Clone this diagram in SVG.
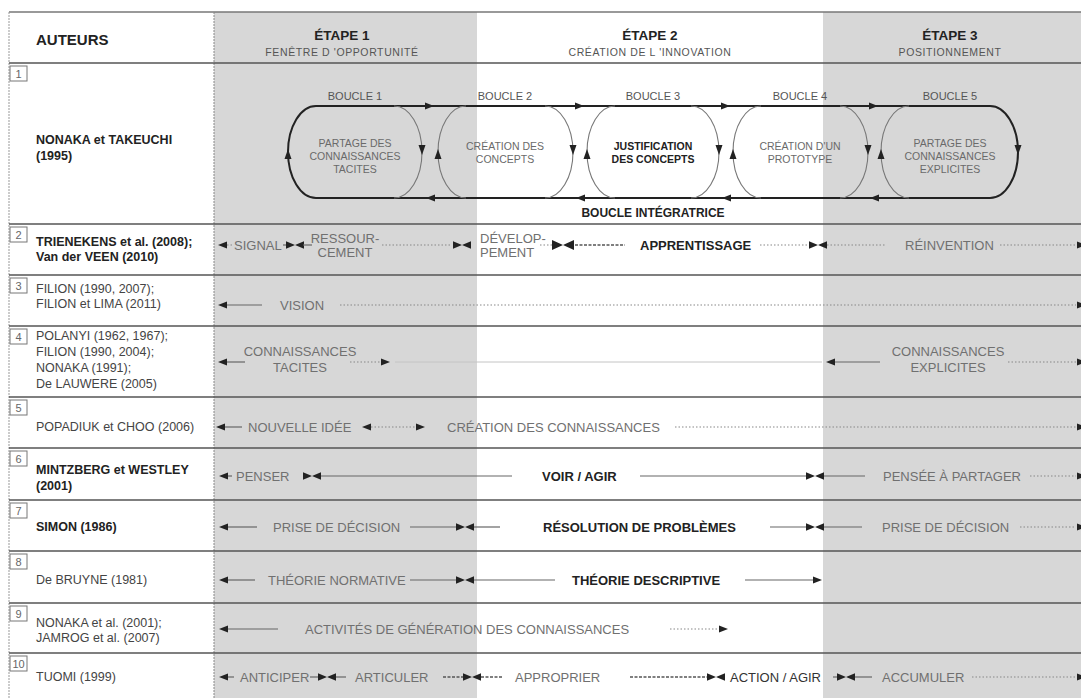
<svg xmlns="http://www.w3.org/2000/svg" xmlns:xlink="http://www.w3.org/1999/xlink" width="1081" height="698" viewBox="0 0 1081 698">
<style>
text{font-family:"Liberation Sans",Arial,sans-serif}
.hb{font-size:13.5px;font-weight:bold;fill:#222}
.ha{font-size:15px;font-weight:bold;fill:#222}
.hs{font-size:10.5px;fill:#555;letter-spacing:0.6px}
.au{font-size:12.5px;fill:#444}
.aub{font-size:12.5px;fill:#222;font-weight:bold}
.t{font-size:13px;fill:#707070}
.tb{font-size:13px;fill:#222;font-weight:bold}
.lp{font-size:10.5px;fill:#6a6a6a}
.lpb{font-size:10.5px;fill:#222;font-weight:bold}
.bl{font-size:11px;fill:#555}
.num{font-size:11px;fill:#666}
.nb{fill:#fff;stroke:#777;stroke-width:1}
.sep{stroke:#555;stroke-width:1.5}
.ln{stroke:#666;stroke-width:1.2;fill:none}
.dt{stroke:#888;stroke-width:1.2;stroke-dasharray:1.5 2;fill:none}
.dk{stroke:#555;stroke-width:1.5;stroke-dasharray:3 1.5;fill:none}
.ah{fill:#222}
.outer{stroke:#222;stroke-width:2;fill:none}
.inner{stroke:#777;stroke-width:1.1;fill:none}
</style>
<defs>
<path id="ar" class="ah" d="M0,0 L-9,-3.5 L-9,3.5 Z"/>
<path id="al" class="ah" d="M0,0 L9,-3.5 L9,3.5 Z"/>
<path id="bt" class="ah" d="M0,0 L-9,-3.8 L-9,3.8 Z M0,0 L9,-3.8 L9,3.8 Z"/>
<path id="au" class="ah" d="M0,-5 L-3.5,5 L3.5,5 Z"/>
<path id="ad" class="ah" d="M0,5 L-3.5,-5 L3.5,-5 Z"/>
</defs>
<rect width="1081" height="698" fill="#fff"/>
<g id="shading">
<rect x="214" y="12" width="263" height="686" fill="#d7d7d7"/>
<rect x="823" y="12" width="258" height="686" fill="#d7d7d7"/>
</g>
<g id="grid">
<line x1="9" y1="12" x2="1081" y2="12" stroke="#777" stroke-width="1.5"/>
<line x1="9" y1="12" x2="9" y2="698" stroke="#999" stroke-width="1" stroke-dasharray="2 1"/>
<line x1="214" y1="12" x2="214" y2="698" stroke="#888" stroke-width="1" stroke-dasharray="2 1"/>
<line class="sep" x1="9" y1="63" x2="1081" y2="63"/>
<line class="sep" x1="9" y1="224" x2="1081" y2="224"/>
<line class="sep" x1="9" y1="275" x2="1081" y2="275"/>
<line class="sep" x1="9" y1="326" x2="1081" y2="326"/>
<line class="sep" x1="9" y1="397" x2="1081" y2="397"/>
<line class="sep" x1="9" y1="448" x2="1081" y2="448"/>
<line class="sep" x1="9" y1="500" x2="1081" y2="500"/>
<line class="sep" x1="9" y1="551" x2="1081" y2="551"/>
<line class="sep" x1="9" y1="603" x2="1081" y2="603"/>
<line class="sep" x1="9" y1="653" x2="1081" y2="653"/>
</g>
<g id="header">
<text class="ha" x="36" y="45">AUTEURS</text>
<text class="hb" x="342" y="40" text-anchor="middle">ÉTAPE 1</text>
<text class="hs" x="342" y="56" text-anchor="middle">FENÊTRE D 'OPPORTUNITÉ</text>
<text class="hb" x="650" y="40" text-anchor="middle">ÉTAPE 2</text>
<text class="hs" x="650" y="56" text-anchor="middle">CRÉATION DE L 'INNOVATION</text>
<text class="hb" x="950" y="40" text-anchor="middle">ÉTAPE 3</text>
<text class="hs" x="950" y="56" text-anchor="middle">POSITIONNEMENT</text>
</g>
<g id="numbers">
<rect class="nb" x="10" y="66" width="17" height="15"/><text class="num" x="18.5" y="78" text-anchor="middle">1</text>
<rect class="nb" x="10" y="227" width="17" height="15"/><text class="num" x="18.5" y="239" text-anchor="middle">2</text>
<rect class="nb" x="10" y="278" width="17" height="15"/><text class="num" x="18.5" y="290" text-anchor="middle">3</text>
<rect class="nb" x="10" y="329" width="17" height="15"/><text class="num" x="18.5" y="341" text-anchor="middle">4</text>
<rect class="nb" x="10" y="400" width="17" height="15"/><text class="num" x="18.5" y="412" text-anchor="middle">5</text>
<rect class="nb" x="10" y="451" width="17" height="15"/><text class="num" x="18.5" y="463" text-anchor="middle">6</text>
<rect class="nb" x="10" y="503" width="17" height="15"/><text class="num" x="18.5" y="515" text-anchor="middle">7</text>
<rect class="nb" x="10" y="554" width="17" height="15"/><text class="num" x="18.5" y="566" text-anchor="middle">8</text>
<rect class="nb" x="10" y="606" width="17" height="15"/><text class="num" x="18.5" y="618" text-anchor="middle">9</text>
<rect class="nb" x="10" y="656" width="17" height="15"/><text class="num" x="18.5" y="668" text-anchor="middle">10</text>
</g>
<g id="authors">
<text class="aub" x="36" y="144">NONAKA et TAKEUCHI</text>
<text class="aub" x="36" y="160">(1995)</text>
<text class="aub" x="36" y="246">TRIENEKENS et al. (2008);</text>
<text class="aub" x="36" y="261">Van der VEEN (2010)</text>
<text class="au" x="36" y="293">FILION (1990, 2007);</text>
<text class="au" x="36" y="308">FILION et LIMA (2011)</text>
<text class="au" x="36" y="340">POLANYI (1962, 1967);</text>
<text class="au" x="36" y="356">FILION (1990, 2004);</text>
<text class="au" x="36" y="372">NONAKA (1991);</text>
<text class="au" x="36" y="388">De LAUWERE (2005)</text>
<text class="au" x="36" y="431">POPADIUK et CHOO (2006)</text>
<text class="aub" x="36" y="474">MINTZBERG et WESTLEY</text>
<text class="aub" x="36" y="490">(2001)</text>
<text class="aub" x="36" y="531">SIMON (1986)</text>
<text class="au" x="36" y="584">De BRUYNE (1981)</text>
<text class="au" x="36" y="627">NONAKA et al. (2001);</text>
<text class="au" x="36" y="642">JAMROG et al. (2007)</text>
<text class="au" x="36" y="681">TUOMI (1999)</text>
</g>
<g id="row-1-loops">
<g id="boucle-1"><text class="bl" x="355" y="100" text-anchor="middle">BOUCLE 1</text>
<text class="lp" x="355" y="147" text-anchor="middle">PARTAGE DES</text>
<text class="lp" x="355" y="160" text-anchor="middle">CONNAISSANCES</text>
<text class="lp" x="355" y="173" text-anchor="middle">TACITES</text></g>
<g id="boucle-2"><text class="bl" x="505" y="100" text-anchor="middle">BOUCLE 2</text>
<text class="lp" x="505" y="150" text-anchor="middle">CRÉATION DES</text>
<text class="lp" x="505" y="163" text-anchor="middle">CONCEPTS</text></g>
<g id="boucle-3"><text class="bl" x="653" y="100" text-anchor="middle">BOUCLE 3</text>
<text class="lpb" x="653" y="150" text-anchor="middle">JUSTIFICATION</text>
<text class="lpb" x="653" y="163" text-anchor="middle">DES CONCEPTS</text></g>
<g id="boucle-4"><text class="bl" x="800" y="100" text-anchor="middle">BOUCLE 4</text>
<text class="lp" x="800" y="150" text-anchor="middle">CRÉATION D'UN</text>
<text class="lp" x="800" y="163" text-anchor="middle">PROTOTYPE</text></g>
<g id="boucle-5"><text class="bl" x="950" y="100" text-anchor="middle">BOUCLE 5</text>
<text class="lp" x="950" y="147" text-anchor="middle">PARTAGE DES</text>
<text class="lp" x="950" y="160" text-anchor="middle">CONNAISSANCES</text>
<text class="lp" x="950" y="173" text-anchor="middle">EXPLICITES</text></g>
<g id="boucle-integratrice"><text class="tb" x="653" y="217" text-anchor="middle" style="font-size:12px">BOUCLE INTÉGRATRICE</text></g>
</g>
<g id="row-2">
<text class="t" x="234" y="250">SIGNAL</text>
<text class="t" x="345" y="243" text-anchor="middle">RESSOUR-</text>
<text class="t" x="345" y="257" text-anchor="middle">CEMENT</text>
<text class="t" x="480" y="243">DÉVELOP-</text>
<text class="t" x="480" y="257">PEMENT</text>
<text class="tb" x="640" y="250">APPRENTISSAGE</text>
<text class="t" x="905" y="250">RÉINVENTION</text>
</g>
<g id="row-3"><text class="t" x="280" y="310">VISION</text></g>
<g id="row-4">
<text class="t" x="300" y="356" text-anchor="middle">CONNAISSANCES</text>
<text class="t" x="300" y="372" text-anchor="middle">TACITES</text>
<text class="t" x="948" y="356" text-anchor="middle">CONNAISSANCES</text>
<text class="t" x="948" y="372" text-anchor="middle">EXPLICITES</text>
</g>
<g id="row-5">
<text class="t" x="248" y="432">NOUVELLE IDÉE</text>
<text class="t" x="447" y="432">CRÉATION DES CONNAISSANCES</text>
</g>
<g id="row-6">
<text class="t" x="236" y="481">PENSER</text>
<text class="tb" x="542" y="481">VOIR / AGIR</text>
<text class="t" x="883" y="481">PENSÉE À PARTAGER</text>
</g>
<g id="row-7">
<text class="t" x="273" y="532">PRISE DE DÉCISION</text>
<text class="tb" x="543" y="532">RÉSOLUTION DE PROBLÈMES</text>
<text class="t" x="882" y="532">PRISE DE DÉCISION</text>
</g>
<g id="row-8">
<text class="t" x="268" y="585">THÉORIE NORMATIVE</text>
<text class="tb" x="572" y="585">THÉORIE DESCRIPTIVE</text>
</g>
<g id="row-9"><text class="t" x="305" y="634">ACTIVITÉS DE GÉNÉRATION DES CONNAISSANCES</text></g>
<g id="row-10">
<text class="t" x="240" y="682">ANTICIPER</text>
<text class="t" x="355" y="682">ARTICULER</text>
<text class="t" x="515" y="682">APPROPRIER</text>
<text class="tb" x="730" y="682" style="font-weight:normal;fill:#333">ACTION / AGIR</text>
<text class="t" x="882" y="682">ACCUMULER</text>
</g>
<g id="connectors">
<path class="outer" d="M316,106 H990 A28,46 0 0 1 990,198 H316 A28,46 0 0 1 316,106 Z"/>
<path class="inner" d="M394,106 A28,46 0 0 1 394,198"/>
<path class="inner" d="M466,106 A28,46 0 0 0 466,198"/>
<path class="inner" d="M545,106 A28,46 0 0 1 545,198"/>
<path class="inner" d="M615,106 A28,46 0 0 0 615,198"/>
<path class="inner" d="M691,106 A28,46 0 0 1 691,198"/>
<path class="inner" d="M761,106 A28,46 0 0 0 761,198"/>
<path class="inner" d="M840,106 A28,46 0 0 1 840,198"/>
<path class="inner" d="M909,106 A28,46 0 0 0 909,198"/>
<use href="#ar" x="434" y="106"/><use href="#ar" x="584" y="106"/><use href="#ar" x="730" y="106"/><use href="#ar" x="878" y="106"/>
<use href="#al" x="426" y="198"/><use href="#al" x="576" y="198"/><use href="#al" x="722" y="198"/><use href="#al" x="870" y="198"/>
<use href="#au" x="288" y="154"/><use href="#ad" x="422" y="150"/>
<use href="#au" x="438" y="154"/><use href="#ad" x="573" y="150"/>
<use href="#au" x="587" y="154"/><use href="#ad" x="719" y="150"/>
<use href="#au" x="733" y="154"/><use href="#ad" x="868" y="150"/>
<use href="#au" x="881" y="154"/><use href="#ad" x="1018" y="150"/>
<use href="#al" x="218" y="245"/>
<line class="dt" x1="227" y1="245" x2="232" y2="245"/>
<line class="ln" x1="283" y1="245" x2="287" y2="245"/>
<use href="#bt" x="295" y="245"/>
<line class="ln" x1="303" y1="245" x2="312" y2="245"/>
<line class="dt" x1="382" y1="245" x2="452" y2="245"/>
<use href="#bt" x="462" y="245"/>
<line class="dt" x1="540" y1="245" x2="553" y2="245"/>
<path class="ah" d="M563,245 L552,240 L552,250 Z M563,245 L574,240 L574,250 Z"/>
<line class="dk" x1="575" y1="245" x2="625" y2="245"/>
<line class="dt" x1="760" y1="245" x2="809" y2="245"/>
<use href="#bt" x="818" y="245"/>
<line class="dt" x1="827" y1="245" x2="885" y2="245"/>
<line class="dt" x1="1000" y1="245" x2="1076" y2="245"/>
<use href="#ar" x="1086" y="245"/>
<use href="#al" x="218" y="305"/>
<line class="ln" x1="227" y1="305" x2="262" y2="305"/>
<line class="dt" x1="340" y1="305" x2="1076" y2="305"/>
<use href="#ar" x="1086" y="305"/>
<use href="#al" x="218" y="362"/>
<line class="ln" x1="227" y1="362" x2="245" y2="362"/>
<line class="dt" x1="350" y1="362" x2="381" y2="362"/>
<use href="#ar" x="390" y="362"/>
<line x1="395" y1="362" x2="822" y2="362" stroke="#c4c4c4" stroke-width="1"/>
<use href="#al" x="826" y="362"/>
<line class="ln" x1="835" y1="362" x2="880" y2="362"/>
<line class="dt" x1="1008" y1="362" x2="1076" y2="362"/>
<use href="#ar" x="1086" y="362"/>
<use href="#al" x="216" y="427"/>
<line class="ln" x1="225" y1="427" x2="242" y2="427"/>
<use href="#al" x="362" y="427"/>
<line class="dt" x1="371" y1="427" x2="416" y2="427"/>
<use href="#ar" x="425" y="427"/>
<line class="dt" x1="675" y1="427" x2="1076" y2="427"/>
<use href="#ar" x="1086" y="427"/>
<use href="#al" x="219" y="476"/>
<line class="ln" x1="228" y1="476" x2="232" y2="476"/>
<use href="#bt" x="312" y="476"/>
<line class="ln" x1="321" y1="476" x2="512" y2="476"/>
<line class="ln" x1="640" y1="476" x2="806" y2="476"/>
<use href="#bt" x="815" y="476"/>
<line class="ln" x1="824" y1="476" x2="865" y2="476"/>
<line class="dt" x1="1030" y1="476" x2="1076" y2="476"/>
<use href="#ar" x="1086" y="476"/>
<use href="#al" x="219" y="527"/>
<line class="ln" x1="228" y1="527" x2="257" y2="527"/>
<line class="ln" x1="410" y1="527" x2="456" y2="527"/>
<use href="#bt" x="465" y="527"/>
<line class="ln" x1="474" y1="527" x2="500" y2="527"/>
<line class="ln" x1="770" y1="527" x2="806" y2="527"/>
<use href="#bt" x="815" y="527"/>
<line class="ln" x1="824" y1="527" x2="862" y2="527"/>
<line class="dt" x1="1020" y1="527" x2="1076" y2="527"/>
<use href="#ar" x="1086" y="527"/>
<use href="#al" x="219" y="580"/>
<line class="ln" x1="228" y1="580" x2="255" y2="580"/>
<line class="ln" x1="410" y1="580" x2="456" y2="580"/>
<use href="#bt" x="465" y="580"/>
<line class="ln" x1="474" y1="580" x2="555" y2="580"/>
<line class="ln" x1="745" y1="580" x2="813" y2="580"/>
<use href="#ar" x="822" y="580"/>
<use href="#al" x="219" y="629"/>
<line class="ln" x1="228" y1="629" x2="278" y2="629"/>
<line class="dt" x1="670" y1="629" x2="718" y2="629"/>
<use href="#ar" x="728" y="629"/>
<use href="#al" x="219" y="677"/>
<line class="ln" x1="228" y1="677" x2="234" y2="677"/>
<line class="ln" x1="310" y1="677" x2="318" y2="677"/>
<use href="#bt" x="327" y="677"/>
<line class="ln" x1="336" y1="677" x2="346" y2="677"/>
<line class="dk" x1="443" y1="677" x2="463" y2="677"/>
<use href="#bt" x="472" y="677"/>
<line class="dk" x1="481" y1="677" x2="503" y2="677"/>
<line class="dk" x1="630" y1="677" x2="707" y2="677"/>
<use href="#bt" x="716" y="677"/>
<line class="ln" x1="833" y1="677" x2="837" y2="677"/>
<use href="#bt" x="846" y="677"/>
<line class="ln" x1="855" y1="677" x2="872" y2="677"/>
<line class="dt" x1="972" y1="677" x2="1076" y2="677"/>
<use href="#ar" x="1086" y="677"/>
</g>
</svg>
